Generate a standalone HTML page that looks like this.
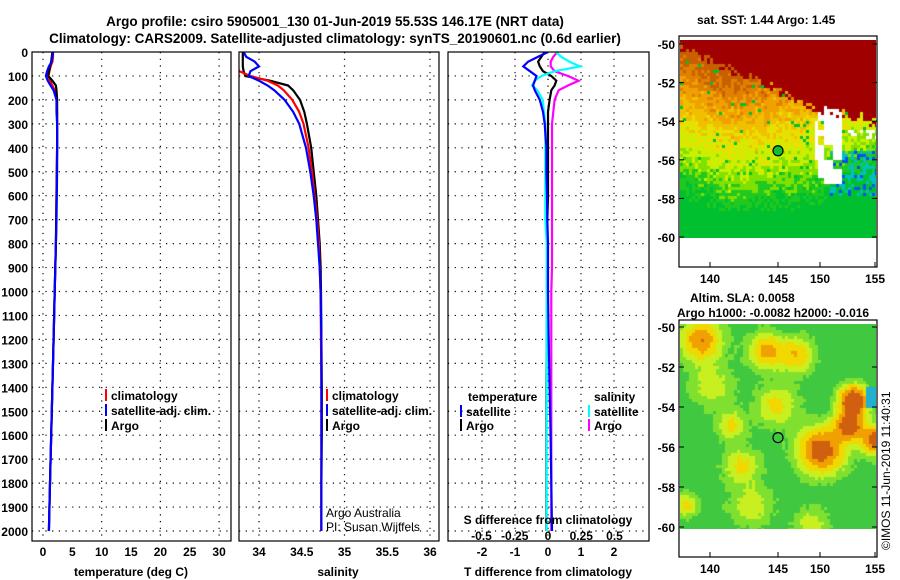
<!DOCTYPE html>
<html><head><meta charset="utf-8"><style>
html,body{margin:0;padding:0;background:#fff;width:900px;height:580px;overflow:hidden}
svg text{font-family:"Liberation Sans",Arial,sans-serif;font-weight:bold;fill:#000}
#wrap{position:relative;width:900px;height:580px}
canvas{position:absolute}
</style></head><body>
<div id="wrap">
<canvas id="sst" width="196" height="198" style="left:680px;top:40px"></canvas>
<canvas id="sla" width="196" height="205" style="left:680px;top:324px"></canvas>
<svg id="svg" width="900" height="580" style="position:absolute;left:0;top:0" xmlns="http://www.w3.org/2000/svg"></svg>
</div>
<script>
// ---- data ----
const depths = [0,20,40,60,80,100,120,140,160,200,250,300,400,500,600,700,800,900,1000,1200,1400,1600,1800,2000];
const tempArgo = [1.6,1.5,1.4,1.2,1.0,0.9,1.6,2.2,2.3,2.4,2.4,2.4,2.4,2.35,2.3,2.25,2.2,2.1,2.0,1.8,1.6,1.4,1.2,1.0];
const tempClim = [1.7,1.7,1.6,1.3,1.1,0.9,1.2,1.6,2.0,2.3,2.4,2.4,2.4,2.35,2.3,2.25,2.2,2.1,2.0,1.8,1.6,1.4,1.2,1.0];
const tempSat = [1.7,1.6,1.5,1.0,0.7,0.5,0.8,1.3,1.8,2.3,2.3,2.4,2.4,2.4,2.35,2.3,2.2,2.1,2.0,1.8,1.6,1.4,1.2,1.0];
const salArgo = [33.81,33.81,33.81,33.81,33.82,33.84,34.13,34.34,34.40,34.48,34.53,34.56,34.61,34.64,34.67,34.69,34.71,34.72,34.725,34.73,34.735,34.735,34.73,34.73];
const salClim = [33.7,33.7,33.72,33.74,33.77,33.9,34.1,34.22,34.29,34.39,34.47,34.52,34.58,34.62,34.65,34.68,34.70,34.71,34.72,34.725,34.73,34.73,34.73,34.73];
const salSat = [33.82,33.85,33.95,34.0,33.9,33.88,34.0,34.1,34.18,34.3,34.4,34.47,34.55,34.6,34.64,34.67,34.69,34.71,34.72,34.73,34.73,34.73,34.73,34.73];
const dTsat = [0,-0.3,-0.6,-0.75,-0.55,-0.35,-0.4,-0.45,-0.4,-0.25,-0.15,-0.1,-0.05,-0.05,-0.03,-0.02,0,0,0,0.02,0.05,0.08,0.1,0.12];
const dTargo = [-0.1,-0.2,-0.3,-0.25,-0.15,0.1,0.25,0.2,0.1,0.05,0,0,0,0,0,-0.02,-0.02,-0.03,-0.03,-0.04,-0.05,-0.05,-0.05,-0.05];
const dSsat = [0.06,0.1,0.16,0.24,0.05,-0.05,-0.1,-0.12,-0.08,-0.04,-0.03,-0.02,-0.02,-0.02,-0.02,-0.02,-0.01,-0.01,-0.01,-0.01,-0.01,-0.01,-0.01,-0.01];
const dSargo = [0.07,0.04,0.02,0.02,0.05,0.15,0.23,0.15,0.08,0.05,0.04,0.03,0.03,0.03,0.03,0.03,0.03,0.03,0.025,0.025,0.025,0.025,0.025,0.025];
const depthTicks = [0,100,200,300,400,500,600,700,800,900,1000,1100,1200,1300,1400,1500,1600,1700,1800,1900,2000];
const tempTicks = [0,5,10,15,20,25,30];
const salTicks = ["34","34.5","35","35.5","36"];
const dTTicks = ["-2","-1","0","1","2"];
const dSTicks = ["-0.5","-0.25","0","0.25","0.5"];
const latTicks = [-50,-52,-54,-56,-58,-60];
const lonTicks = ["140","145","150","155"];

// ---- scales ----
const yD = d => 52 + 0.2395*d;
const xT = t => 43 + 5.87*t;
const xS = s => 259 + 85.5*(s-34);
const xdT = t => 548 + 33*t;
const xdS = s => 548 + 133*s;
const NS="http://www.w3.org/2000/svg";
const svg=document.getElementById('svg');
function el(tag,attrs,parent){const e=document.createElementNS(NS,tag);for(const k in attrs)e.setAttribute(k,attrs[k]);(parent||svg).appendChild(e);return e;}
function txt(x,y,s,anchor,size,parent,weight){const t=el('text',{x:x,y:y,'text-anchor':anchor||'start','font-size':size||12},parent);if(weight)t.setAttribute('style','font-weight:'+weight);t.textContent=s;return t;}

// titles
let t;
t=txt(335,26,"Argo profile: csiro 5905001_130 01-Jun-2019 55.53S 146.17E (NRT data)","middle",13.5);


t=txt(335,43,"Climatology: CARS2009. Satellite-adjusted climatology: synTS_20190601.nc (0.6d earlier)","middle",13.5);



const panels=[[32,231,'temperature-panel'],[239,439,'salinity-panel'],[448,649,'difference-panel']];
const yTop=52,yBot=541;
panels.forEach(p=>{
  const g=el('g',{});
  
  
  depthTicks.forEach(d=>{ if(d>0) el('line',{x1:p[0],x2:p[1],y1:yD(d),y2:yD(d),stroke:'#000','stroke-width':1.2,'stroke-dasharray':'1.2,5.5'},g);});
});
[0,10,20,30].forEach(v=>el('line',{x1:xT(v),x2:xT(v),y1:yTop,y2:yBot,stroke:'#000','stroke-width':1.2,'stroke-dasharray':'1.2,5.5'}));
[34,35,36].forEach(v=>el('line',{x1:xS(v),x2:xS(v),y1:yTop,y2:yBot,stroke:'#000','stroke-width':1.2,'stroke-dasharray':'1.2,5.5'}));
[-2,-1,0,1,2].forEach(v=>el('line',{x1:xdT(v),x2:xdT(v),y1:yTop,y2:yBot,stroke:'#000','stroke-width':1.2,'stroke-dasharray':'1.2,5.5'}));

depthTicks.forEach(d=>{const e=txt(28,yD(d)+5,String(d),'end',12);

});

panels.forEach((p,i)=>{const c=el('clipPath',{id:'c'+i});el('rect',{x:p[0],y:yTop,width:p[1]-p[0],height:yBot-yTop},c);});
function series(vals,xf,color,clip,name){
  const pts=depths.map((d,i)=>xf(vals[i]).toFixed(1)+','+yD(d).toFixed(1)).join(' ');
  const pl=el('polyline',{points:pts,fill:'none',stroke:color,'stroke-width':2.2,'clip-path':'url(#c'+clip+')'});
  
  
}
series(tempClim,xT,'#ff0000',0,'temp-climatology-line');
series(tempArgo,xT,'#000000',0,'temp-argo-line');
series(tempSat,xT,'#0000ff',0,'temp-satellite-line');
series(salArgo,xS,'#000000',1,'sal-argo-line');
series(salClim,xS,'#ff0000',1,'sal-climatology-line');
series(salSat,xS,'#0000ff',1,'sal-satellite-line');
series(dSargo,xdS,'#ff00ff',2,'s-argo-diff-line');
series(dTargo,xdT,'#000000',2,'t-argo-diff-line');
series(dSsat,xdS,'#00ffff',2,'s-satellite-diff-line');
series(dTsat,xdT,'#0000ff',2,'t-satellite-diff-line');

panels.forEach(p=>{el('rect',{x:p[0],y:yTop,width:p[1]-p[0],height:yBot-yTop,fill:'none',stroke:'#000','stroke-width':1.2});});

tempTicks.forEach(v=>{const e=txt(xT(v),556,String(v),'middle',12);

});
salTicks.forEach(v=>{const e=txt(xS(+v),556,v,'middle',12);

});
dTTicks.forEach(v=>{const e=txt(xdT(+v),556,v,'middle',12);

});
dSTicks.forEach(v=>{const e=txt(xdS(+v),540,v,'middle',12);

});
t=txt(131,576,"temperature (deg C)","middle",12);


t=txt(338,576,"salinity","middle",12);


t=txt(548,576,"T difference from climatology","middle",12);


t=txt(548,524,"S difference from climatology","middle",12);


t=txt(326,517,"Argo Australia","start",12,null,'normal');


t=txt(326,531,"PI: Susan Wijffels","start",12,null,'normal');



function leg(x,y,color,label,name){
  const g=el('g',{});
  
  
  el('rect',{x:x,y:y-9,width:2,height:12,fill:color},g);
  txt(x+6,y+2,label,'start',12,g);
}
leg(105,398,'#ff0000','climatology','legend-temp-climatology');
leg(105,413,'#0000ff','satellite-adj. clim.','legend-temp-satellite');
leg(105,428,'#000000','Argo','legend-temp-argo');
leg(326,398,'#ff0000','climatology','legend-sal-climatology');
leg(326,413,'#0000ff','satellite-adj. clim.','legend-sal-satellite');
leg(326,428,'#000000','Argo','legend-sal-argo');
t=txt(468,401,"temperature","start",12);


leg(460,414,'#0000ff','satellite','legend-t-satellite');
leg(460,428,'#000000','Argo','legend-t-argo');
t=txt(594,401,"salinity","start",12);


leg(588,414,'#00ffff','satellite','legend-s-satellite');
leg(588,428,'#ff00ff','Argo','legend-s-argo');

function mapAxes(top,bot,latY,name){
  const g=el('g',{});
  
  
  el('rect',{x:679,y:top,width:198,height:bot-top,fill:'none',stroke:'#000','stroke-width':1.2},g);
  latTicks.forEach((v,i)=>{const y=latY(i);el('line',{x1:679,x2:684,y1:y,y2:y,stroke:'#000'},g);el('line',{x1:872,x2:877,y1:y,y2:y,stroke:'#000'},g);txt(675,y+5,String(v),'end',12,g);});
  const lx=[710,778,820,875];
  lonTicks.forEach((v,i)=>{el('line',{x1:lx[i],x2:lx[i],y1:bot-5,y2:bot,stroke:'#000'},g);txt(lx[i],bot+16,v,'middle',12,g);});
  el('circle',{cx:778,cy:latY(0)+(latY(5)-latY(0))*0.553,r:5,fill:name==='sst-axes'?'#10c030':'none',stroke:'#000','stroke-width':1.2},g);
}
mapAxes(36,267,i=>44+i*38.6,'sst-axes');
mapAxes(320,557,i=>327+i*40,'sla-axes');
t=txt(697,24,"sat. SST: 1.44 Argo: 1.45","start",12);


t=txt(690,302,"Altim. SLA: 0.0058","start",12);


t=txt(677,317,"Argo h1000: -0.0082 h2000: -0.016","start",12);


t=el('text',{x:0,y:0,'font-size':12,transform:'translate(890,550) rotate(-90)'});
t.setAttribute('style','font-weight:normal');
t.textContent="©IMOS 11-Jun-2019 11:40:31";



// ---- map imagery (decorative) ----
function hash(a,b){let h=(a*374761393+b*668265263)|0;h=(h^(h>>>13))*1274126177|0;return ((h^(h>>>16))>>>0)/4294967295;}
const sst=document.getElementById('sst').getContext('2d');
const sstCols=['#00c030','#20c820','#80e000','#c8f000','#e8e000','#f0c000','#f0a000','#e08000','#c86000'];
function redB(u){ if(u<0.6) return 0.03+0.45*u; if(u<0.72) return 0.3+0.5*(u-0.6); return 0.33+0.3*(u-0.72); }
for(let by=0;by<198;by+=3)for(let bx=0;bx<196;bx+=3){
  const u=bx/196,w=by/198;const r=hash(bx,by),r2=hash(by+7,bx+3);
  const rb=redB(u)+(r2-0.5)*0.06;
  let c;
  if(w<rb){c='#a00000';}
  else{
    let s=1-((w-rb)*1.25+Math.max(0,u-0.25)*0.8)+(r-0.5)*0.18;
    if(w>0.85) s-=0.15;
    let k=Math.max(0,Math.min(8,Math.floor(s*9)));
    c=sstCols[k];
    if(r>0.97) c='#00c030';
    if(u>0.76&&w>0.55&&w<0.78&&r>0.55)c=r>0.85?'#0050f0':'#00c0c0';
    if(u>0.68&&u<0.82&&w>0.3&&w<0.72&&hash(bx>>3,by>>3)>0.35)c='#ffffff';
    if(u>0.85&&w>0.45&&w<0.5&&r>0.5)c='#ffffff';
  }
  sst.fillStyle=c;sst.fillRect(bx,by,3,3);
}
const sla=document.getElementById('sla').getContext('2d');
const blobs=[[20,15,14,0.7],[85,25,12,0.6],[115,30,12,0.5],[172,75,10,1.1],[168,100,10,0.9],[195,115,10,0.9],[140,125,16,0.9],[60,140,12,0.4],[5,180,8,0.4],[95,80,14,0.4],[50,100,10,0.4],[130,200,12,0.3],[30,60,15,0.3],[70,180,15,0.3]];
for(let by=0;by<205;by+=3)for(let bx=0;bx<196;bx+=3){
  let v=0.28+0.06*(hash(bx>>2,by>>2)-0.5);
  blobs.forEach(b=>{const d2=((bx-b[0])**2+(by-b[1])**2)/(2*b[2]*b[2]);v+=b[3]*Math.exp(-d2);});
  let c;
  if(v>1.0)c='#d06010';else if(v>0.8)c='#f0a000';else if(v>0.62)c='#f0d800';else if(v>0.48)c='#c8f020';else if(v>0.36)c='#80e030';else c='#40c840';
  if(bx>184&&by>62&&by<82&&v<0.9)c='#20b0d0';
  sla.fillStyle=c;sla.fillRect(bx,by,3,3);
}
</script>
</body></html>
